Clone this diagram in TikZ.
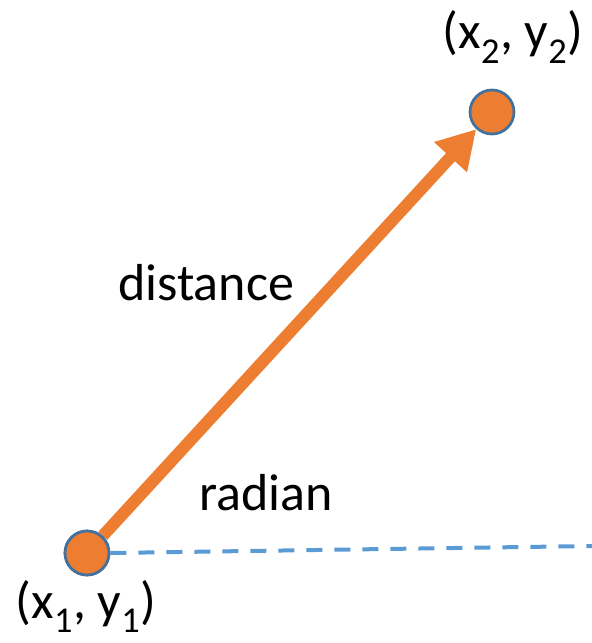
\documentclass[tikz,border=0pt]{standalone}
\usepackage{fontspec}
\setmainfont{Carlito}
\usepackage{tikz}
\usetikzlibrary{arrows.meta, positioning}
\definecolor{ptorange}{HTML}{ED7D31}
\definecolor{ptborder}{HTML}{41719C}
\definecolor{ptblue}{HTML}{5B9BD5}
\tikzset{>=latex}
\tikzset{font=\fontsize{52}{60}\selectfont}
\tikzset{point/.style={circle, fill=ptorange, draw=ptborder, line width=2.7pt,
    minimum size=44pt, inner sep=0pt}}
\tikzset{lbl/.style={inner sep=0pt, anchor=base}}

\begin{document}
\begin{tikzpicture}[x=1pt, y=-1pt]
          \useasboundingbox (0,0) rectangle (592,643);
          \node[point] (p1) at (87,553) {};
          \node[point] (p2) at (492,112) {};
          \coordinate (far) at (592,546);
          % dashed baseline for the angle
          \draw[ptblue, line width=4pt, dash pattern=on 16pt off 12pt] (p1.east) -- (far);
          \draw[ptorange, line width=12pt, -{Triangle[length=38pt, width=42pt]}] (p1) -- (p2);
          \node[point] at (p1) {};
          \node[lbl] (l2) at (513,48) {(x\textsubscript{2}, y\textsubscript{2})};
          \node[lbl] (l1) at (86,618) {(x\textsubscript{1}, y\textsubscript{1})};
          \node[lbl] (dist) at (206,300) {distance};
          \node[lbl] (rad) at (266,510) {radian};
        \end{tikzpicture}
\end{document}
